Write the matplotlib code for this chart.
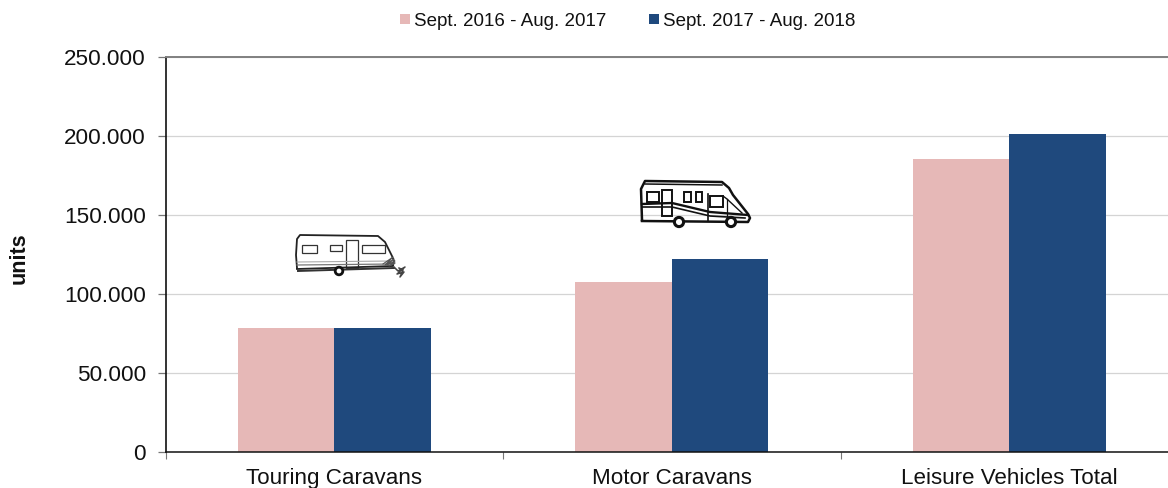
import matplotlib

matplotlib.use("Agg")
import matplotlib.pyplot as plt
import numpy as np
from matplotlib.patches import Circle, Rectangle

W, H = 1168, 489
plt.rcParams["font.family"] = ["Liberation Sans", "DejaVu Sans"]

categories = ["Touring Caravans", "Motor Caravans", "Leisure Vehicles Total"]
season_2017 = [78300, 107300, 185400]
season_2018 = [78400, 122000, 201000]
legend_labels = ["Sept. 2016 - Aug. 2017", "Sept. 2017 - Aug. 2018"]
y_ticks = [0, 50000, 100000, 150000, 200000, 250000]
y_tick_labels = ["0", "50.000", "100.000", "150.000", "200.000", "250.000"]

PINK, NAVY = "#E6B8B7", "#1F497D"


def draw_caravan(ov):
    c = "#222222"
    ov.plot([297, 296, 297, 300, 378, 385, 392, 394, 393, 297],
            [269, 256, 240, 236, 237, 243, 257, 262, 267, 270], color=c, lw=1.3)
    ov.plot([298, 394], [272, 269], color="#333333", lw=1.4)
    ov.plot([297, 393], [266, 265], color="#777777", lw=0.9)
    ov.plot([297, 393], [263, 262], color="#aaaaaa", lw=0.8)
    for x0, y0, x1, y1 in [(302, 246, 317, 254), (330, 246, 342, 252), (346, 241, 358, 269), (362, 246, 385, 254)]:
        ov.add_patch(Rectangle((x0, y0), x1 - x0, y1 - y0, fill=False, ec="#333333", lw=0.9))
    ov.add_patch(Circle((339, 272), 3.8, fc="white", ec="#111111", lw=2.0, zorder=3))
    ov.plot([383, 393, 385, 394, 387, 395, 389, 395], [265, 258, 266, 260, 266, 262, 267, 264], color="#555555", lw=0.8)
    ov.plot([394, 398, 405, 397, 404, 400, 403, 399], [268, 272, 268, 275, 273, 278, 271, 269], color="#444444", lw=1.1)


def draw_motorhome(ov):
    c = "#111111"
    ov.plot([642, 641, 645, 722, 729, 733, 748, 750, 748, 642],
            [221, 190, 182, 183, 189, 196, 215, 219, 223, 222], color=c, lw=1.8)
    ov.plot([642, 672, 710, 748], [205, 204, 213, 216], color=c, lw=1.7)
    ov.plot([642, 672, 710, 745], [208, 208, 217, 219], color=c, lw=1.2)
    ov.plot([645, 722], [185, 186], color=c, lw=1.1)
    for x0, y0, x1, y1 in [(647, 193, 659, 203), (662, 191, 672, 217), (684, 193, 691, 203),
                           (696, 193, 702, 203), (710, 197, 723, 208)]:
        ov.add_patch(Rectangle((x0, y0), x1 - x0, y1 - y0, fill=False, ec=c, lw=1.4))
    ov.plot([708, 708], [195, 222], color=c, lw=1.2)
    ov.plot([723, 727, 742], [197, 200, 214], color=c, lw=1.0)
    ov.plot([727, 727], [200, 221], color=c, lw=0.9)
    for cx in [679, 731]:
        ov.add_patch(Circle((cx, 223), 4.6, fc="white", ec=c, lw=2.2, zorder=3))


# plot area runs past the right edge of the image
left, right, top, bottom = 165.5, 1178, 57.5, 452.5
fig = plt.figure(figsize=(W / 100, H / 100), dpi=100)
ax = fig.add_axes([left / W, 1 - bottom / H, (right - left) / W, (bottom - top) / H])

x = np.arange(len(categories))
width = 0.286
ax.bar(x - width / 2, season_2017, width, color=PINK, zorder=2)
ax.bar(x + width / 2, season_2018, width, color=NAVY, zorder=2)

ax.set_xlim(-0.5, 2.5)
ax.set_ylim(0, 250000)
ax.set_yticks(y_ticks)
ax.set_yticklabels(y_tick_labels, fontsize=16.2, color="#111111")
ax.set_xticks([-0.5, 0.5, 1.5])
ax.set_xticklabels([])
ax.set_xticks(x, minor=True)
ax.set_xticklabels(categories, minor=True, fontsize=16.1, color="#111111")
ax.tick_params(axis="x", which="minor", length=0, pad=11)
ax.tick_params(axis="x", which="major", length=5, width=0.8, color="#777777")
ax.tick_params(axis="y", length=6, width=0.9, color="#777777", pad=8)
ax.grid(axis="y", color="#D4D4D4", lw=0.9, zorder=1)
ax.set_axisbelow(True)

ax.spines["right"].set_visible(False)
ax.spines["top"].set_color("#808080")
ax.spines["top"].set_linewidth(1.4)
ax.spines["left"].set_color("#111111")
ax.spines["left"].set_linewidth(1.2)
ax.spines["bottom"].set_color("#111111")
ax.spines["bottom"].set_linewidth(1.1)

fig.text(19 / W, 1 - 258 / H, "units", rotation=90, ha="center", va="center",
         fontsize=15.5, fontweight="bold", color="#111111")

# overlay in image pixels for the legend and the two vehicle icons
ov = fig.add_axes([0, 0, 1, 1], facecolor="none")
ov.set_xlim(0, W)
ov.set_ylim(H, 0)
ov.axis("off")
for (sx, tx), colour, label in zip([(400, 414), (649, 663)], [PINK, NAVY], legend_labels):
    ov.add_patch(Rectangle((sx, 15), 10, 10, fc=colour, ec="none"))
    ov.text(tx, 21.5, label, fontsize=13.5, va="center", ha="left", color="#111111")
draw_caravan(ov)
draw_motorhome(ov)

fig.savefig("out.png", dpi=100)
